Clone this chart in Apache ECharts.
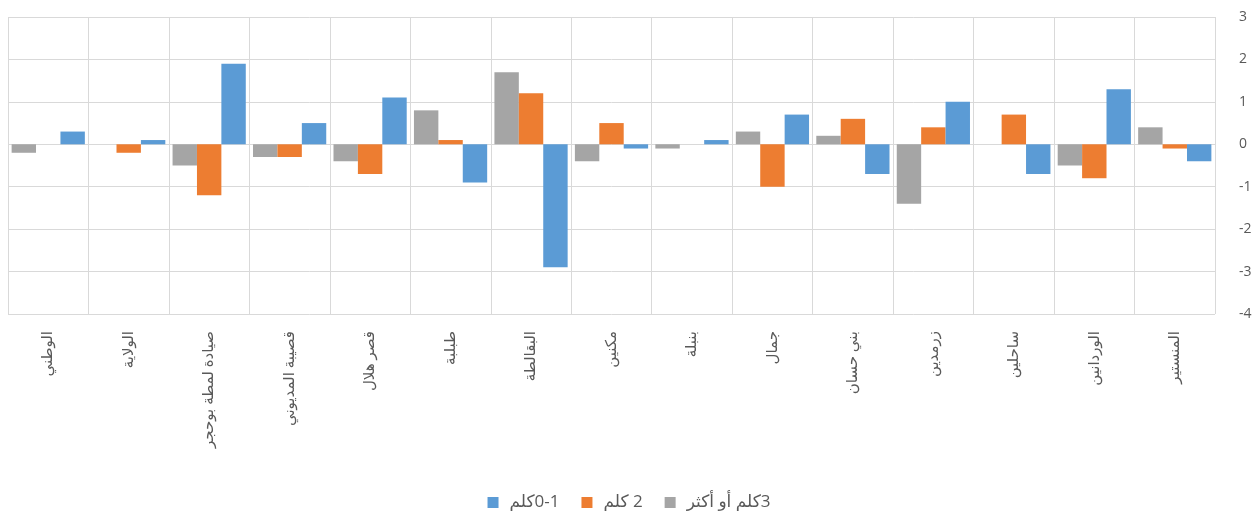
<!DOCTYPE html>
<html>
<head>
<meta charset="utf-8">
<script src="https://cdn.jsdelivr.net/npm/echarts@6/dist/echarts.min.js"></script>
<style>
html,body{margin:0;padding:0;background:#fff;}
#chart{width:1258px;height:511px;}
</style>
</head>
<body>
<div id="chart"></div>
<script>
const categories = ['الوطني','الولاية','صيادة لمطة بوحجر','قصيبة المديوني','قصر هلال','طبلبة','البقالطة','مكنين','بنبلة','جمال','بني حسان','زرمدين','ساحلين','الوردانين','المنستير'];
const seriesNames = ['0-1كلم', '2 كلم', '3كلم أو أكثر'];
const values01 = [0.3, 0.1, 1.9, 0.5, 1.1, -0.9, -2.9, -0.1, 0.1, 0.7, -0.7, 1.0, -0.7, 1.3, -0.4];
const values2 = [0, -0.2, -1.2, -0.3, -0.7, 0.1, 1.2, 0.5, 0, -1.0, 0.6, 0.4, 0.7, -0.8, -0.1];
const values3 = [-0.2, 0, -0.5, -0.3, -0.4, 0.8, 1.7, -0.4, -0.1, 0.3, 0.2, -1.4, 0, -0.5, 0.4];
const colors = ['#5B9BD5', '#ED7D31', '#A5A5A5'];

const FONT = "'Open Sans', 'DejaVu Sans', sans-serif";
const rtl = s => '\u2067' + s + '\u2069';

const chart = echarts.init(document.getElementById('chart'), null, {renderer: 'canvas'});
chart.setOption({
  animation: false,
  backgroundColor: '#fff',
  grid: {left: 8, right: 43, top: 17, bottom: 197, containLabel: false},
  legend: {
    data: [seriesNames[0], seriesNames[1], seriesNames[2]],
    left: 'center',
    top: 489,
    itemWidth: 11,
    itemHeight: 11,
    itemGap: 22,
    icon: 'rect',
    formatter: n => rtl(n),
    textStyle: {color: '#595959', fontSize: 17, fontFamily: FONT, padding: [0, 0, 0, 6]}
  },
  xAxis: {
    type: 'category',
    data: categories,
    axisLine: {show: false},
    axisTick: {show: false},
    splitLine: {show: true, interval: 0, lineStyle: {color: '#d9d9d9', width: 1}},
    axisLabel: {interval: 0, rotate: 90, margin: 17, color: '#595959', fontSize: 15, fontFamily: FONT}
  },
  yAxis: {
    type: 'value',
    position: 'right',
    min: -4, max: 3, interval: 1,
    axisLine: {show: false},
    axisTick: {show: false},
    splitLine: {lineStyle: {color: '#d9d9d9', width: 1}},
    axisLabel: {margin: 24, color: '#595959', fontSize: 14, fontFamily: FONT, padding: [0, 0, 8, 0]}
  },
  series: [
    {name: seriesNames[2], type: 'bar', data: values3, itemStyle: {color: colors[2]}, barGap: '0%', barCategoryGap: '9%'},
    {name: seriesNames[1], type: 'bar', data: values2, itemStyle: {color: colors[1]}, barGap: '0%', barCategoryGap: '9%'},
    {name: seriesNames[0], type: 'bar', data: values01, itemStyle: {color: colors[0]}, barGap: '0%', barCategoryGap: '9%'}
  ]
});
</script>
</body>
</html>
